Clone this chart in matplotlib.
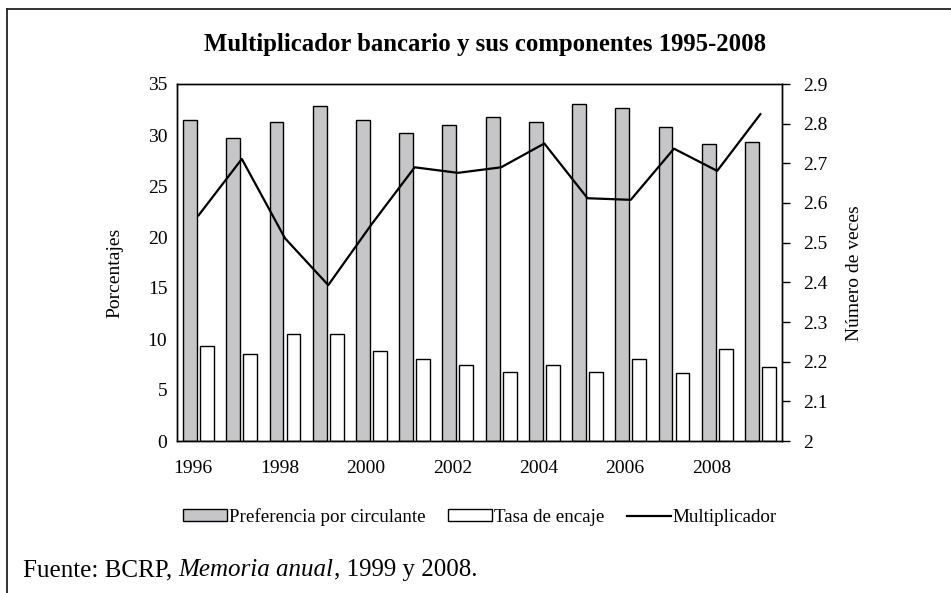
import numpy as np
import matplotlib.pyplot as plt
from matplotlib.lines import Line2D
from matplotlib.patches import Patch

plt.rcParams['font.family'] = ['Liberation Serif', 'DejaVu Serif']

anios = ["1996", "1997", "1998", "1999", "2000", "2001", "2002",
         "2003", "2004", "2005", "2006", "2007", "2008", "2009"]
preferencia = [31.5, 29.7, 31.3, 32.8, 31.5, 30.2, 31.0,
               31.8, 31.3, 33.0, 32.6, 30.8, 29.1, 29.3]
encaje = [9.3, 8.5, 10.5, 10.5, 8.8, 8.0, 7.5,
          6.8, 7.5, 6.8, 8.0, 6.7, 9.0, 7.3]
multiplicador = [2.569, 2.711, 2.511, 2.393, 2.546, 2.690, 2.676,
                 2.690, 2.750, 2.612, 2.608, 2.737, 2.681, 2.824]
ticks_izq = [0, 5, 10, 15, 20, 25, 30, 35]
ticks_der = [2, 2.1, 2.2, 2.3, 2.4, 2.5, 2.6, 2.7, 2.8, 2.9]

gris = "#c6c6c8"
x = np.arange(len(anios))
ancho = 0.32
desp = 0.197

fig = plt.figure(figsize=(9.51, 5.93), dpi=100)
ax = fig.add_axes([177/951, 1-441/593, (782-177)/951, (441-84)/593])

ax.bar(x - desp, preferencia, ancho, color=gris, edgecolor="black", linewidth=1)
ax.bar(x + desp, encaje, ancho, color="white", edgecolor="black", linewidth=1)
ax.set_xlim(-0.5, len(anios) - 0.5)
ax.set_ylim(0, 35)
ax.set_yticks(ticks_izq)
ax.set_xticks(x[::2] - 0.13)
ax.set_xticklabels(anios[::2])
ax.tick_params(axis="both", length=0, labelsize=14, pad=7)
ax.tick_params(axis="x", pad=14)
ax.set_ylabel("Porcentajes", fontsize=14)
ax.yaxis.set_label_coords(-0.088, 0.47)

ax2 = ax.twinx()
ax2.plot(x, multiplicador, color="black", linewidth=1.6)
ax2.set_ylim(2, 2.9)
ax2.set_yticks(ticks_der)
ax2.set_yticklabels([f"{t:g}" for t in ticks_der])
ax2.tick_params(axis="y", direction="out", length=6, width=1, labelsize=14, pad=9)
ax2.set_ylabel("Número de veces", fontsize=14)
ax2.yaxis.set_label_coords(1.106, 0.47)

for a in (ax, ax2):
    for s in a.spines.values():
        s.set_linewidth(1)

handles = [Patch(facecolor=gris, edgecolor="black", linewidth=1),
           Patch(facecolor="white", edgecolor="black", linewidth=1),
           Line2D([], [], color="black", linewidth=1.6)]
fig.legend(handles, ["Preferencia por circulante", "Tasa de encaje", "Multiplicador"],
           loc="center", bbox_to_anchor=(480/951, 1-517/593), ncol=3, frameon=False,
           fontsize=13.7, handlelength=2.3, handleheight=0.55, handletextpad=0.1,
           columnspacing=1.2)

fig.text(485/951, 1-45/593, "Multiplicador bancario y sus componentes 1995-2008",
         ha="center", va="center", fontsize=17.8, fontweight="bold")

# borde superior e izquierdo
fig.add_artist(Line2D([7/951, 7/951], [0, 1-9/593], color="#222222", linewidth=1.3))
fig.add_artist(Line2D([7/951, 1], [1-9/593, 1-9/593], color="#222222", linewidth=1.3))

# nota de fuente con titulo en cursiva
fig.canvas.draw()
r = fig.canvas.get_renderer()
xpos = 23
for trozo, estilo in [("Fuente: BCRP, ", "normal"), ("Memoria anual", "italic"),
                      (", 1999 y 2008.", "normal")]:
    t = fig.text(xpos/951, 1-576/593, trozo, ha="left", va="baseline",
                 fontsize=18, style=estilo)
    xpos += t.get_window_extent(r).width

fig.savefig("out.png", dpi=100)
